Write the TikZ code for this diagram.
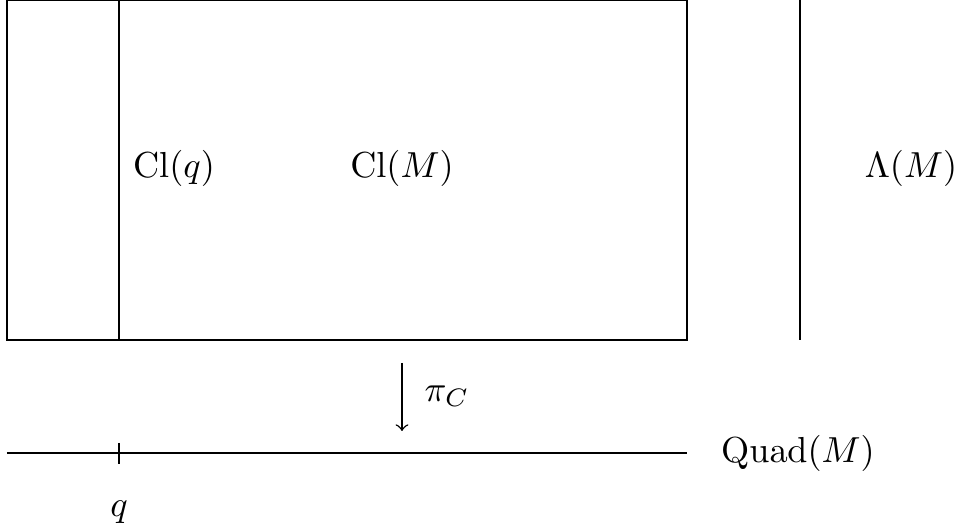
\documentclass[tikz,border=0pt]{standalone}
\begin{document}
\begin{tikzpicture}[x=0.2764pt,y=-0.2764pt,
  lbl/.style={inner sep=0pt}]
\useasboundingbox (0,0) rectangle (961,532);
\coordinate (r1) at (7,0);
\coordinate (r2) at (687,340);
\coordinate (v1) at (119,0);
\coordinate (v2) at (119,340);
\coordinate (w1) at (800,0);
\coordinate (w2) at (800,340);
\coordinate (h1) at (7,453);
\coordinate (h2) at (687,453);
\coordinate (t1) at (119,443);
\coordinate (t2) at (119,464);
\coordinate (a1) at (402,363);
\coordinate (a2) at (402,431);
\draw (r1) rectangle (r2);
\draw (v1) -- (v2);
\draw (w1) -- (w2);
\draw (h1) -- (h2);
\draw (t1) -- (t2);
\draw[->] (a1) -- (a2);
\node[lbl] (clq) at (174,168) {$\mathrm{Cl}(q)$};
\node[lbl] (clm) at (402,168) {$\mathrm{Cl}(M)$};
\node[lbl] (lam) at (911,168) {$\Lambda(M)$};
\node[lbl] (pic) at (447,396) {$\pi_C$};
\node[lbl] (quad) at (798,453) {$\mathrm{Quad}(M)$};
\node[lbl] (q) at (119,512) {$q$};
\end{tikzpicture}
\end{document}
